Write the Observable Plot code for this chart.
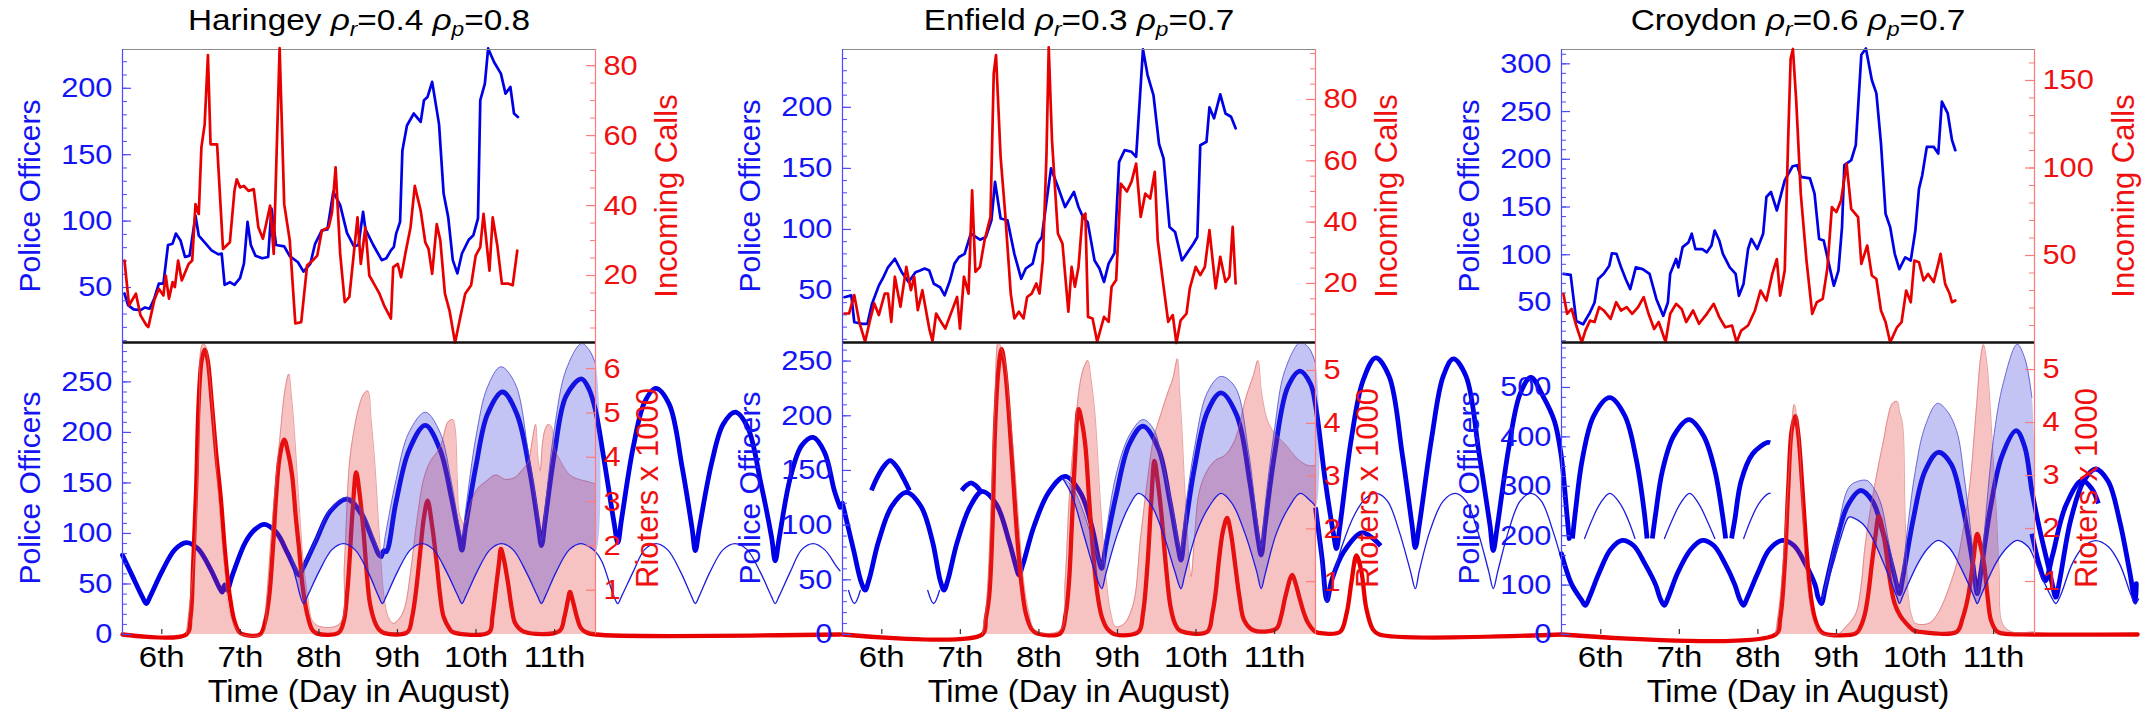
<!DOCTYPE html>
<html><head><meta charset="utf-8">
<script src="https://cdn.jsdelivr.net/npm/d3@7"></script>
<script src="https://cdn.jsdelivr.net/npm/@observablehq/plot@0.6"></script>
<style>
html,body{margin:0;padding:0;background:#fff;}
#root{position:relative;width:2153px;height:721px;overflow:hidden;background:#fff;font-family:"Liberation Sans",Arial,Helvetica,sans-serif;}
#root svg{overflow:visible;}
.lbl{position:absolute;white-space:nowrap;line-height:1;}
.sub{font-size:0.68em;position:relative;top:0.28em;line-height:0;}
</style></head><body><div id="root"></div><script>
// ---------------- data ----------------
const boroughs = ["Haringey", "Enfield", "Croydon"];
const rhoR = ["0.4", "0.3", "0.6"];
const rhoP = ["0.8", "0.7", "0.7"];
const hoursDomain = [0, 144.5];           // hours since 12:00, 5 August
const dayTicks = [6, 7, 8, 9, 10, 11];
const dayLabels = ["6th", "7th", "8th", "9th", "10th", "11th"];

// top panels: [hour, value]
const haringeyOfficersTop = [[0.6,45.5],[1.7,36.7],[3.4,33.5],[5.5,33],[6.9,35],[8.3,34],[9.7,41.7],[11.1,53],[12.5,53],[13.9,82],[15.3,83],[16.3,90.6],[17.7,85.6],[19.1,73],[20.5,74],[22.3,104],[23.3,89],[25.1,84],[27.2,78],[29.3,75],[30.3,75.6],[31.2,52],[32.8,54],[34.2,52],[35.9,57],[37.1,68],[38.2,99.4],[39.2,82],[40.6,74],[42.7,72],[44.5,73],[45.5,109.5],[46.9,82],[49.4,81],[51.1,73.6],[53.6,69],[55.3,62],[57.4,68],[58.8,82.6],[60.9,93],[62.6,93.7],[64.4,122],[66.5,112],[68.6,91],[70.7,81],[72.1,82],[73.5,107],[74.2,94],[76.6,82],[79.2,70.6],[80.6,72],[82,78],[82.9,80.6],[83.6,90.6],[84.8,99.4],[85.5,153],[86.9,172],[89,181],[91.1,174.7],[92.1,191],[93.2,193.5],[94.6,204.8],[96.7,173],[98.1,120.7],[99.5,103],[100.9,70.6],[102.3,60.6],[103.7,75.6],[105.8,86],[107.2,89.4],[108.6,102],[109.3,191],[110.7,203.5],[111.7,230],[113.5,219.8],[115.6,211],[117,196],[118.5,201],[119.6,181],[120.8,178.4]];
const haringeyCallsTop = [[0.6,24.3],[2,11.5],[4.1,14.8],[5.5,8.6],[7.3,5.8],[7.9,5.3],[9.7,12.9],[11.1,16.2],[12.5,14.3],[13.2,20],[14.2,13.4],[15.3,18.1],[16,16.7],[17,24.3],[18.1,18.6],[20.2,23.3],[21.3,24.3],[22.3,40.4],[23.3,37.6],[24.1,56.6],[25.1,63.2],[26.1,83],[26.9,57.5],[28.9,57.5],[30.7,27.6],[32.8,29.5],[34.2,44.2],[34.9,47.5],[35.9,45.2],[37.1,45.6],[38.5,44.2],[40.1,44.7],[41.5,33.8],[42.9,30.5],[45.1,40],[46.2,26.2],[48,85],[49.4,40.4],[51.1,30],[52.8,6.3],[54.6,6.7],[56.4,22.9],[58.1,24.3],[59.5,25.7],[60.9,32.8],[63,33.8],[64,38],[65.1,50.9],[66.5,26.2],[67.9,12.4],[69.3,13.9],[71.8,36.6],[72.8,23.3],[74.2,33.8],[75.4,20],[77.1,17.2],[78.5,14.8],[79.9,11.5],[82,7.7],[82.7,22.4],[84.1,23.3],[85.1,19.5],[86.5,26.7],[88,33.8],[89.3,45.6],[91.1,38.5],[92.5,29.5],[93.5,27.6],[94.6,20.5],[96,34.7],[97.1,30],[98.5,14.8],[99.9,10],[101.6,0.8],[103,7.2],[104.7,14.8],[106.5,17.2],[107.9,25.7],[109.3,28.1],[110.3,37.6],[112.1,21.4],[113.1,36.6],[114.5,28.6],[115.9,17.7],[117.8,17.7],[119.2,17.2],[120.6,27.1]];
const enfieldOfficersTop = [[0.6,44.5],[2.7,46],[3.6,24],[6.2,22.6],[7.6,22.6],[9,39],[11.1,54],[12.5,61],[13.9,69],[16,76],[18.1,65],[20.2,57],[22.3,65],[23.7,66.4],[25.1,68],[26.5,66.4],[27.9,55.5],[29.8,52.7],[31.2,46],[32.8,58],[34.2,72],[35.6,77.4],[37.3,80],[39.2,96.5],[42,91.6],[43.8,93.8],[45.5,107.5],[46.6,139],[48.3,109],[50.4,107.5],[52.5,80],[54.6,59.6],[56,68],[58.1,72],[59.5,88.3],[60.9,93.8],[62.3,122.5],[63.7,150],[65.8,135],[68,118.4],[70.7,130.8],[72.1,118.4],[73.5,110],[74.9,106],[77,74.6],[78.5,68],[79.9,57],[81.3,72],[83.1,80.7],[84.5,155.4],[86.2,165],[88.3,163.6],[89.7,159.5],[91.8,247.5],[93.2,226.5],[95,210],[96.7,170],[98.1,158],[99.9,102],[101.6,98],[103.7,74.6],[105.1,80],[107.2,88.3],[108.4,93.8],[109.3,169],[111.2,171.8],[112.1,200],[113.5,191],[115.4,210.7],[117,195],[118.7,192.3],[120.1,182.8]];
const enfieldCallsTop = [[0.6,10.2],[2,10.2],[3.6,16.2],[5.1,7.5],[6.9,1.0],[8.3,7.5],[9.7,13.5],[11.1,9.7],[12.9,16.7],[13.9,16.7],[14.9,7.5],[16,22.2],[17.7,12.4],[19.5,25.4],[20.9,17.8],[21.9,22.2],[23,11.3],[24.4,17.8],[26.5,5.3],[27.5,1.2],[28.6,10.2],[29.8,8],[31.4,5.3],[33.5,11.3],[35,15.6],[35.9,5.3],[37.1,22.2],[38.5,16.7],[39.6,50.4],[40.6,23.8],[42,25.4],[43.4,34.1],[45.2,41.7],[46.2,88.5],[46.9,94.5],[48.3,61.3],[49.7,42.8],[51.4,16.7],[52.5,8.6],[53.9,10.8],[55.3,8.6],[56.4,15.6],[57.8,16.7],[59.2,20],[60.2,16.7],[61.2,27.6],[62.3,61.3],[63,97],[64,66.7],[65.8,36.3],[67.2,33],[69,10.8],[70,25.4],[71,18.9],[72.1,25.4],[73.3,41.7],[74.2,42.8],[75,9.1],[76.4,8.6],[77.8,1.0],[79.9,9.1],[81.3,7.5],[82.2,18.9],[83.6,21.1],[85,52.6],[86.9,50],[88.3,53.2],[89.7,59.1],[91.1,41.7],[92.5,49.3],[94,47.7],[95.4,56.4],[96.3,34.1],[98.1,18.9],[99.5,7.5],[100.9,9.7],[102,0.6],[103.3,8],[105.1,10.2],[106.1,18.4],[107.9,25.4],[109.3,22.7],[110.7,25.4],[112.1,37.4],[114,18.4],[115.4,28.7],[117,20.5],[118.2,22.2],[119.2,38.5],[120.1,20]];
const croydonOfficersTop = [[0.6,80],[2.8,79],[4.5,30.7],[6.6,27.2],[8.7,39.5],[10.1,50],[11.2,74.6],[12.9,80],[14.6,88.6],[15.4,101.6],[16.8,101],[18.2,86.8],[19.6,74.6],[21,64],[22.7,86.8],[24.8,85],[26.9,80],[29,53.5],[31.1,36],[32.5,50],[33.2,80],[35,95.6],[35.7,86.8],[37,108],[38.8,113],[39.8,122],[40.9,106],[43,106],[44.4,102.6],[45.8,109.6],[46.8,125.4],[48.2,115],[49.3,101],[51.4,86.8],[53.2,80],[54.2,57],[55.6,69.3],[57,106],[58,116.6],[59.8,106],[61.6,122],[62.6,160.5],[64,165.7],[65.8,146.4],[68.2,178],[70.6,192.7],[72,193.8],[73.1,181.5],[75.9,180],[77.3,164],[78.7,116.6],[80.1,115],[81.8,88.6],[83.2,67.5],[84.6,83.3],[85.7,129],[86.4,193.8],[88.5,199],[89.9,214.8],[91.6,309.5],[93,316],[94.8,283],[96.2,269],[97.6,216.6],[99,143],[100.4,129],[101.8,101],[103.2,85],[105,97.3],[106.7,94],[108.1,125.4],[109.2,169],[110.2,183.2],[111.6,213],[113.7,213],[115.1,206],[116.2,260.4],[118,248],[119.3,220],[120.3,209.5]];
const croydonCallsTop = [[0.6,28],[1.7,16.7],[3.1,19.5],[4.5,10],[6.2,0.4],[7.3,7.1],[8.7,12.8],[10.1,12],[11.5,20.5],[12.9,18.6],[15,13.8],[16.7,23.3],[18.2,18.6],[19.9,20.5],[21.6,16.7],[23.4,20.5],[25.1,26.2],[26.6,16.7],[28.3,8],[29.7,12],[31.8,0.6],[33.2,16.7],[35,22.4],[36.7,19.5],[38.1,12],[40.2,18.6],[42,11],[44.4,16.7],[46.5,22.4],[48.2,14.8],[50,9],[52.1,10],[53.5,0.4],[54.9,7.1],[57,10],[59.1,18.6],[60.8,30],[62.6,24.3],[64.4,39.5],[65.8,48],[66.8,27.1],[68.2,41.4],[69.2,113.8],[70,162.4],[70.7,168],[71.7,138.6],[73.1,85.2],[74.8,48],[76.6,16.7],[78,23.3],[79.8,25.2],[81.2,42.4],[82.6,77.6],[84,74.8],[85.4,81.4],[87.1,102.4],[88.5,76.7],[90.6,71.9],[91.6,45.2],[93.4,55.7],[94.8,38.6],[96.2,36.6],[97.6,18.6],[99,12],[100.4,0.4],[102.5,9],[103.9,12],[105.3,30],[106.7,23.3],[107.8,47.1],[109.2,46.2],[110.6,35.7],[112,39.5],[113.7,34.8],[115.1,45.2],[115.8,51],[117.2,33.8],[118.6,28],[119.3,23.3],[120.3,24.3]];

// bottom panels: model police officers (mean, band low / high) and rioters x 1000 (mean, band high)
const haringeyOfficers = [[0,78.5],[3,58],[6.1,37],[7.3,30.7],[8.5,38],[12,62],[16,84],[19.5,91],[23,85],[27,64],[29.5,47],[30.5,42],[31.2,49],[32,44],[33.5,58],[37.5,91],[40.5,104],[43.4,109],[47,101],[50.5,80],[53,63],[53.9,58.7],[55.2,66],[59,92],[63.5,122],[68.6,134],[73,119],[76.5,93],[78.3,79],[79,77],[79.8,83],[80.6,82],[83.5,130],[87.5,182],[92.5,207],[97,183],[100.5,135],[102.8,97],[103.7,83.5],[104.8,106],[108,167],[111.5,218],[116.1,240],[120.5,218],[124.5,160],[127,108],[128,88],[129.2,115],[132,180],[135.5,236],[140.2,253],[142.5,243],[144.5,222],[147,175],[150.2,110],[151.3,91],[152.5,115],[156,185],[159.5,230],[162.9,243.6],[167,228],[171,165],[174,105],[175,83],[176.2,105],[180,170],[183.5,208],[187.2,220],[191,205],[195,150],[198.3,96],[199.4,73],[200.6,95],[204,155],[207.5,187],[211,195],[214.5,180],[217.5,142],[219.2,126]];
const haringeyOfficersGhost = [
  [[228.8,142.6],[230.5,155],[232.5,166],[234.5,172],[236.5,166],[238.5,155],[240.4,142.6]],
  [[256.4,142.6],[257.8,147.5],[259.2,150],[260.6,147.5],[262,142.6]]
];
const haringeyOfficersLow = [[51,80],[53,55],[55.3,30.7],[56.5,38],[60,62],[64,84],[67.5,90],[71,84],[75,62],[78.2,38],[79.4,30.7],[80.6,38],[84,62],[88,84],[91.5,90],[95,84],[99,62],[102.5,38],[103.7,30.7],[104.9,38],[108.3,62],[112.3,84],[115.8,90],[119.3,84],[123.3,62],[126.8,38],[128,30.7],[129.2,38],[132.5,62],[136.5,84],[140,90],[143,86],[144.5,82],[146.5,72],[150.1,38],[151.3,30.7],[152.5,38],[156,62],[159.5,84],[163,90],[166.5,84],[170.5,62],[173.8,38],[175,30.7],[176.2,38],[179.5,62],[183.5,84],[187.2,90],[190.8,84],[194.8,62],[198.2,38],[199.4,30.7],[200.6,38],[204,62],[207.5,84],[211,90],[214.5,84],[218,68],[219.2,63]];
const haringeyOfficersLowGhost = [
  [[221.8,43.6],[223.6,30.7],[225.4,43.6]],
  [[246,43.6],[247.8,30.7],[249.6,43.6]]
];
const haringeyOfficersHigh = [[51,80],[53.9,62],[55.2,68],[59,94],[63.5,124],[68.6,136],[73,124],[76.5,98],[78.3,84],[79.2,80],[80.4,100],[83.5,152],[87.5,200],[92.5,220],[97,200],[100.5,150],[102.8,108],[103.7,97],[104.9,125],[108,196],[111.5,245],[115.6,265],[120,248],[124,180],[127,118],[128,93],[129.2,128],[132,205],[135.5,262],[140.2,288],[142.5,282],[144.5,268]];
const haringeyRioters = [[0,0],[19.5,0],[20.8,0.4],[21.6,1.6],[22.5,3.3],[23.3,5.3],[24.2,6.2],[25.1,6.43],[26,6.2],[27.2,5.3],[28.6,4.1],[30,3.1],[31.4,1.8],[32.8,0.85],[34.2,0.3],[35.6,0.06],[37,0],[42,0],[43.6,0.3],[44.8,0.85],[46,2.0],[46.9,3.1],[48,4.0],[49.4,4.4],[50.6,4.1],[51.8,3.6],[53,2.6],[53.9,1.97],[55,1.1],[56.4,0.47],[58,0.1],[59.5,0.02],[66,0.04],[67.6,0.3],[68.6,0.9],[69.3,1.6],[70.3,2.8],[71.4,3.66],[72.4,3.2],[73.6,2.34],[74.6,1.4],[75.6,0.7],[77,0.3],[78.5,0.1],[80,0.03],[87,0.05],[88.5,0.4],[89.7,1.0],[91,1.9],[92,2.6],[93.2,3.02],[94.5,2.5],[96,1.6],[97,0.9],[98.1,0.4],[100,0.12],[101,0.05],[112,0.05],[113,0.4],[114,1.0],[115,1.6],[115.6,1.93],[116.5,1.7],[117.8,1.15],[119,0.55],[120,0.25],[122.7,0.06],[133.5,0.08],[135,0.4],[136,0.75],[136.7,0.96],[137.6,0.75],[138.8,0.4],[140,0.15],[141.6,0.05],[144.5,0],[219.2,0]];
const haringeyRiotersHigh = [[19.5,0],[21,1.0],[22.3,2.3],[23.4,4.5],[24.4,6.54],[25.2,6.54],[26.5,5.9],[28,4.6],[29.3,3.1],[31,1.6],[32.8,0.47],[35,0.1],[36.4,0],[42.7,0],[44,0.8],[45.5,2.3],[47,3.6],[48.3,4.6],[49.6,5.5],[50.8,5.88],[51.6,5.4],[52.5,4.6],[53.8,3.1],[55.3,1.6],[56.7,0.8],[58.1,0.3],[60.9,0.17],[66.5,0.25],[67.8,1.6],[69.3,3.84],[70.7,4.6],[72.1,5.1],[73.5,5.4],[74.9,5.5],[76,4.8],[77.1,3.84],[78.5,2.2],[79.9,0.85],[81.2,0.4],[82.7,0.25],[84.5,0.35],[86.2,0.6],[88,1.4],[90,2.6],[92,3.5],[94,3.9],[96,4.1],[97.4,4.3],[99.5,4.8],[100.9,4.85],[101.6,4.67],[102.3,3.5],[103,2.7],[104.4,2.5],[106.5,3.0],[108.6,3.3],[111,3.45],[114,3.6],[117,3.5],[120,3.55],[122,3.7],[124,3.9],[125,4.3],[126.2,4.74],[126.9,4.0],[127.6,3.7],[128.3,4.3],[129,4.6],[130,4.74],[131,4.7],[132,4.2],[133.9,3.9],[136.7,3.6],[139.5,3.5],[142.3,3.45],[144.5,3.4]];

const enfieldOfficers = [[0,120],[3.4,77],[5.7,48],[6.9,40.6],[8.1,50],[11,85],[15,117],[19.5,130],[24,117],[27.5,85],[29.8,50],[31,40.6],[32.2,50],[35,84],[39,117],[42.7,130.8],[47,119],[51,84],[53,62],[53.9,54.4],[55.1,64],[58.5,99],[63,130],[68,144.5],[72.8,129],[76.4,96],[78.3,68],[79.2,60.5],[80.4,80],[83.5,126],[87.6,174],[91.8,190.4],[96.5,170],[100,122],[102.5,80],[103.4,68],[104.6,95],[107.5,152],[111.4,203],[115.6,221],[120.5,200],[124.5,138],[127,86],[127.9,72.7],[129.1,100],[132,165],[136,226],[139.8,240.8],[143,229],[144.5,210],[147.5,140],[150,92],[150.9,78.6],[152,100],[155.5,180],[159,232],[162.9,253],[167,236],[171,165],[174,100],[175,79.5],[176.2,100],[180,180],[183.5,236],[186.6,252],[190.5,236],[194.5,165],[197.8,100],[198.8,76.8],[200,98],[203.5,170],[207,220],[210.3,235],[214,218],[217.5,195],[219.5,165],[221.3,110],[222,87.8]];
const enfieldOfficersGhost = [
  [[223,87.8],[224,115],[226,160],[229.5,200],[234.4,216.6],[239,200],[242.5,160],[244.8,115],[245.8,87.8]],
  [[247.4,87.8],[248.4,110],[250.5,150],[254,182],[258.6,196.5],[263,182],[266.5,150],[268.8,110],[269.8,87.8]],
  [[271.6,87.8],[272.6,105],[274.5,140],[278,165],[282.5,175.5],[283.4,175.3]],
  [[144.5,116],[146.5,70],[148,31],[149.5,50],[153,75],[158.6,93],[162,88],[164.4,81]]
];
const enfieldOfficersLow = [[67.2,143],[70,128],[73.6,92.6],[77,58],[79.2,42],[80.4,55],[84,92],[87.5,117],[90.4,129],[94,120],[98,92],[101.5,58],[103.4,42],[104.6,55],[108,92],[112,117],[115.6,129],[119,120],[123,92],[126.5,58],[127.9,42],[129.1,55],[132.5,92],[136.5,117],[139.8,129],[143,122],[144.5,117],[146,80],[148,30],[149.3,45],[152.5,80],[156.5,110],[160,125],[163.2,129],[166.5,122],[170,95],[173.5,58],[175,42],[176.2,58],[179.5,95],[183.5,122],[187.2,129],[190.5,122],[194,95],[197.4,58],[198.8,42],[200.2,58],[203.5,95],[207,122],[210.3,129],[213.5,122],[217,95],[219.5,70]];
const enfieldOfficersLowGhost = [
  [[226.7,87.8],[229,105],[231.5,120],[234.4,129],[237.5,120],[240,105],[242.1,87.8]],
  [[251.1,87.8],[253.5,105],[256,120],[258.8,129],[261.5,120],[264,105],[266.5,87.8]],
  [[275.3,87.8],[277.5,105],[280,120],[283,129],[283.4,129]]
];
const enfieldOfficersHigh = [[67.2,143],[70,136],[73.6,112],[76.5,85],[78.5,68],[79.2,65],[80.4,90],[83.5,145],[87.6,182],[91.8,196.5],[95,188],[98,155],[101.5,105],[103,80],[103.4,77],[104.6,110],[107.5,170],[111.4,221],[115.6,236],[120,226],[124,168],[126.8,100],[127.9,80],[129.1,118],[132,188],[135,240],[139.8,267],[142.5,262],[144.5,248]];
const enfieldRioters = [[0,0],[42.7,0],[43.8,0.3],[44.8,0.72],[45.8,2.0],[46.6,3.89],[47.6,5.0],[48.6,5.41],[49.7,5.0],[50.8,4.2],[52,3.1],[53.2,1.99],[54.6,1.0],[56,0.4],[57.8,0.1],[59.5,0.02],[66.5,0.02],[68.2,0.4],[69.2,1.0],[70,1.99],[71,3.3],[72.1,4.27],[73.2,4.0],[74.2,3.57],[75.3,2.6],[76.4,1.67],[77.8,0.8],[79.2,0.34],[81,0.1],[83.4,0],[90.4,0.05],[91.8,0.4],[93.2,1.35],[94.3,2.5],[95.3,3.29],[96.3,2.9],[97.4,2.3],[98.8,1.3],[100.2,0.53],[101.6,0.2],[103,0.08],[111.4,0.05],[113,0.4],[114,0.8],[114.9,1.35],[116.2,1.95],[117.5,2.21],[118.7,1.9],[119.9,1.35],[121.3,0.7],[122.7,0.27],[125.5,0.08],[132.5,0.11],[134,0.35],[135.3,0.72],[137.4,1.13],[138.5,0.95],[139.5,0.72],[141,0.4],[142.3,0.21],[144.5,0.05],[147,0.02],[152,0.05],[154,0.4],[155.5,1.0],[157,1.5],[158.5,1.2],[160,0.5],[162,0.1],[164,0],[219.5,0]];
const enfieldRiotersHigh = [[42.7,0],[44,0.6],[45.5,2.62],[46.5,4.3],[47.6,5.55],[48.6,5.4],[49.7,5.16],[51,4.3],[52.5,3.25],[54,2.0],[55.3,1.03],[57,0.4],[58.8,0.08],[66.5,0.08],[68,1.0],[69.3,2.62],[71,3.9],[72.8,4.84],[74,5.1],[74.9,5.19],[76,4.8],[77.1,4.2],[78.8,2.5],[80.6,1.03],[82,0.4],[83.4,0.15],[86,0.2],[88.9,0.59],[91,1.8],[93.2,2.94],[95,3.7],[97.4,4.2],[99.5,4.6],[100.9,4.84],[102.3,5.22],[103,4.6],[103.7,3.89],[104.8,2.5],[106.5,1.1],[107.5,1.8],[109,2.7],[111.4,3.1],[114,3.3],[117,3.4],[120,3.7],[123.4,4.52],[125.5,4.9],[126.9,5.19],[128,4.6],[129.7,4.08],[131.8,3.83],[135.3,3.6],[139.5,3.3],[142.3,3.2],[144.5,3.2]];

const croydonOfficers = [[0,163.5],[3,103],[6.1,70],[7.3,59],[8.5,75],[11.5,125],[15,172],[18.5,190.5],[22,180],[25.5,143],[28.8,100],[30.2,72],[31.4,59],[32.6,75],[35.5,125],[39.5,172],[43,190.5],[46.5,180],[50,143],[53,100],[54.4,72],[55.6,59],[56.8,75],[60,125],[63.5,172],[67.5,190.5],[71,180],[74.5,143],[77.5,100],[78.4,75],[79.4,62.6],[80.6,95],[84,190],[87.5,262],[91.3,291.4],[95,270],[98.5,200],[101.5,125],[102.4,100],[103.2,82.8],[104.4,120],[107.5,235],[111,330],[115.1,368.8],[119,345],[122.5,260],[125.5,150],[126.2,115],[127,82.8],[128.2,130],[131,255],[134.5,360],[138.9,412.5],[141.5,380],[143.7,291],[146,215],[149,130],[150,100],[151,75.5],[152.2,110],[155.5,230],[159.5,310],[163.1,335],[167,310],[170.5,230],[173.5,130],[175.3,65.4],[175.6,103]];
const croydonOfficersGhost = [
  [[143.7,204],[146,140],[147.8,109],[150,160],[154,260],[159,312],[162,295],[164,265]]
];
const croydonOfficersLow = [[79.4,66],[81,100],[83,143],[85.5,200],[87.8,237.6],[89.5,235],[92,224],[95,195],[97.6,156.8],[100.5,110],[102.5,75],[103.2,62.6],[104.4,80],[108.8,143],[112,175],[115.1,190.5],[118.5,175],[121.4,143],[124.5,100],[126.3,72],[127,62.6],[128.2,80],[132.6,143],[136,175],[139.2,190.5],[142.5,178],[143.7,165],[146.5,120],[149.5,78],[151,62.7],[152.5,80],[156,143],[159.5,178],[163.2,190],[167,178],[170.5,143],[174,80],[175.3,62.7],[176.3,72]];
const croydonOfficersLowGhost = [];
const croydonOfficersHigh = [[79.4,66],[81,110],[84,200],[87.8,298],[90.5,310],[93.4,311.6],[95.5,295],[97.6,264.5],[100,185],[102.3,110],[103.2,89.5],[104.4,140],[106,230],[108.1,331.8],[111,420],[114.8,467.7],[117.5,455],[120.7,412.5],[123,320],[125.5,180],[127,82.8],[128.5,160],[131.9,392.4],[135,510],[139.2,587.5],[141.5,560],[143.7,480]];
const croydonRioters = [[0,0],[65.4,0],[66.8,0.3],[68.2,1.33],[69.3,2.8],[70.3,3.84],[71.4,4.12],[72.3,3.8],[73.1,3.21],[74.2,2.2],[75.2,1.33],[76.2,0.7],[77.3,0.33],[78.7,0.1],[80.1,0.02],[89.9,0.02],[91.4,0.15],[92.7,0.39],[93.8,0.8],[94.8,1.33],[96,1.9],[96.9,2.24],[98,2.0],[99,1.65],[100.4,1.0],[101.8,0.58],[103.5,0.35],[105.3,0.21],[107.5,0.08],[109.5,0.05],[120.7,0.05],[122.5,0.3],[124.2,0.71],[125.8,1.4],[127,1.9],[128.1,1.65],[129.1,1.33],[130.2,0.7],[131.2,0.27],[133,0.06],[134.7,0.02],[144.1,0],[176,0]];
const croydonRiotersHigh = [[65.4,0],[67,0.8],[68.2,1.8],[69,2.59],[70,3.6],[71.1,4.34],[72.4,3.84],[73.5,2.6],[74.5,1.33],[75.8,0.6],[77.3,0.21],[80.1,0],[84.3,0],[87,0.15],[89.9,0.39],[91.5,0.9],[92.7,1.65],[94.5,2.4],[96.9,3.21],[98.5,3.7],[99.7,4.09],[101,4.35],[102.5,4.4],[103.3,4.2],[104.2,3.97],[105,2.2],[106,0.71],[107,0.35],[108.1,0.21],[112.3,0.21],[114.5,0.35],[116.5,0.58],[118.5,0.9],[120.7,1.33],[122.8,2.0],[124.9,2.9],[126,3.7],[127,4.47],[128,5.2],[128.9,5.47],[129.8,5.2],[130.8,4.47],[131.7,3.5],[132.6,2.59],[133.7,1.2],[134.7,0.21],[137.5,0.05],[144.1,0.05]];

// axis domains and tick values
const topOfficersDomain = [[8.6,229.2],[7.4,247.4],[8.1,315]];
const topCallsDomain = [[0.86,84.6],[0.75,96.3],[0.3,167.7]];
const botOfficersDomain = [[0,289],[0,267],[0,591]];
const botRiotersDomain = [[0,6.59],[0,5.53],[0,5.51]];
const topOfficersTicks = [[50,100,150,200],[50,100,150,200],[50,100,150,200,250,300]];
const topCallsTicks = [[20,40,60,80],[20,40,60,80],[50,100,150]];
const botOfficersTicks = [[0,50,100,150,200,250],[0,50,100,150,200,250],[0,100,200,300,400,500]];
const botRiotersTicks = [[1,2,3,4,5,6],[1,2,3,4,5],[1,2,3,4,5]];

// --------------- layout / style ---------------
const FONT = '"Liberation Sans", Arial, Helvetica, sans-serif';
const root = document.getElementById("root");
const FW = 473, ML = 140, MR = 140;
const colLeft = [122, 842, 1561];
const TOPG = {top: 39, mt: 10, fh: 293, mb: 0};
const BOTG = {top: 332, mt: 10, fh: 292, mb: 80};
const BLUE = "#0000e6", RED = "#e80000", BLUE_TXT = "#1414f5", RED_TXT = "#f01010";
const AX_BLUE = "#4a4aff", AX_RED = "#ff7a7a";
const TEXT_STRETCH = 1.1;

const series = [
  {oTop: haringeyOfficersTop, cTop: haringeyCallsTop, off: haringeyOfficers, offG: haringeyOfficersGhost, lo: haringeyOfficersLow, loG: haringeyOfficersLowGhost, hi: haringeyOfficersHigh, ri: haringeyRioters, riHi: haringeyRiotersHigh},
  {oTop: enfieldOfficersTop, cTop: enfieldCallsTop, off: enfieldOfficers, offG: enfieldOfficersGhost, lo: enfieldOfficersLow, loG: enfieldOfficersLowGhost, hi: enfieldOfficersHigh, ri: enfieldRioters, riHi: enfieldRiotersHigh},
  {oTop: croydonOfficersTop, cTop: croydonCallsTop, off: croydonOfficers, offG: croydonOfficersGhost, lo: croydonOfficersLow, loG: croydonOfficersLowGhost, hi: croydonOfficersHigh, ri: croydonRioters, riHi: croydonRiotersHigh}
];

const X = d => d[0], Y = d => d[1];
const seg = segs => segs.flatMap((s, k) => s.map(p => ({h: p[0], v: p[1], k})));

// widen glyphs horizontally (the reference type is slightly stretched); only
// texts positioned through a translate() transform are touched
function stretchTexts(svg) {
  svg.querySelectorAll("text").forEach(t => {
    const tr = t.getAttribute("transform");
    if (tr && tr.indexOf("translate") >= 0) t.setAttribute("transform", `${tr} scale(${TEXT_STRETCH},1)`);
  });
}

function addLayer(col, geo, yDomain, marks) {
  const svg = Plot.plot({
    width: ML + FW + MR, height: geo.mt + geo.fh + geo.mb,
    marginLeft: ML, marginRight: MR, marginTop: geo.mt, marginBottom: geo.mb,
    x: {domain: hoursDomain, axis: null},
    y: {domain: yDomain, axis: null},
    style: {background: "transparent", overflow: "visible", fontFamily: FONT},
    marks
  });
  Object.assign(svg.style, {position: "absolute", left: (colLeft[col] - ML) + "px", top: geo.top + "px",
    overflow: "visible", maxWidth: "none", background: "transparent"});
  stretchTexts(svg);
  root.appendChild(svg);
}

function leftAxis(major, minor, fs) {
  return [
    Plot.ruleX([hoursDomain[0]], {stroke: AX_BLUE, strokeWidth: 1.2}),
    Plot.tickY(minor, {y: d => d, insetRight: FW - 5, stroke: AX_BLUE, strokeWidth: 1}),
    Plot.tickY(major, {y: d => d, insetRight: FW - 9, stroke: AX_BLUE, strokeWidth: 1.2}),
    Plot.text(major, {y: d => d, text: d => String(d), frameAnchor: "left", dx: -10, textAnchor: "end", fill: BLUE_TXT, fontSize: fs})
  ];
}
function rightAxis(major, minor, fs) {
  return [
    Plot.ruleX([hoursDomain[1]], {stroke: AX_RED, strokeWidth: 1.2}),
    Plot.tickY(minor, {y: d => d, insetLeft: FW - 5, stroke: AX_RED, strokeWidth: 1}),
    Plot.tickY(major, {y: d => d, insetLeft: FW - 9, stroke: AX_RED, strokeWidth: 1.2}),
    Plot.text(major, {y: d => d, text: d => String(d), frameAnchor: "right", dx: 8, textAnchor: "start", fill: RED_TXT, fontSize: fs})
  ];
}
const stepRange = (dom, step) => d3.range(Math.ceil(dom[0] / step) * step, dom[1] + 1e-9, step);

function addLabel(html, x, y, style) {
  const d = document.createElement("div");
  d.className = "lbl";
  d.innerHTML = html;
  Object.assign(d.style, {left: x + "px", top: y + "px"}, style);
  root.appendChild(d);
}

for (let c = 0; c < 3; c++) {
  const s = series[c];
  const L = colLeft[c], R = L + FW, C = L + FW / 2;

  // ---------- top panel ----------
  const tbD = topOfficersDomain[c], trD = topCallsDomain[c];
  addLayer(c, TOPG, tbD, [
    Plot.line(s.oTop, {x: X, y: Y, stroke: BLUE, strokeWidth: 2.7}),
    Plot.ruleY([tbD[1]], {stroke: "#8c8c8c", strokeWidth: 1.2}),
    Plot.ruleY([tbD[0]], {stroke: "#111", strokeWidth: 2.2}),
    ...leftAxis(topOfficersTicks[c], stepRange(tbD, 10), 28)
  ]);
  addLayer(c, TOPG, trD, [
    Plot.line(s.cTop, {x: X, y: Y, stroke: RED, strokeWidth: 2.7}),
    ...rightAxis(topCallsTicks[c], stepRange(trD, c === 2 ? 10 : 5), 28)
  ]);

  // ---------- bottom panel ----------
  const bbD = botOfficersDomain[c], brD = botRiotersDomain[c];
  const inFrame = a => a.filter(p => p[0] <= hoursDomain[1] + 0.01);
  const bandPoly = inFrame(s.hi).concat(inFrame(s.lo).slice().reverse());
  addLayer(c, BOTG, bbD, [
    Plot.line(s.off, {x: X, y: Y, stroke: BLUE, strokeWidth: 4.8, curve: "catmull-rom"}),
    Plot.line(seg(s.offG), {x: "h", y: "v", z: "k", stroke: BLUE, strokeWidth: 4.8, curve: "catmull-rom", strokeLinecap: "butt"})
  ]);
  addLayer(c, BOTG, brD, [
    Plot.line(s.ri, {x: X, y: Y, stroke: RED, strokeWidth: 4.3, curve: "catmull-rom"})
  ]);
  addLayer(c, BOTG, brD, [
    Plot.areaY(s.riHi, {x: X, y: Y, fill: "#e53535", fillOpacity: 0.3, curve: "catmull-rom"}),
    Plot.line(s.riHi, {x: X, y: Y, stroke: "#d86a6a", strokeWidth: 0.9, strokeOpacity: 0.7, curve: "catmull-rom"})
  ]);
  addLayer(c, BOTG, bbD, [
    Plot.line(bandPoly, {x: X, y: Y, fill: "#3c3cdc", fillOpacity: 0.3, stroke: "none", curve: "catmull-rom"}),
    Plot.line(s.hi, {x: X, y: Y, stroke: "#4a4ad0", strokeWidth: 1, strokeOpacity: 0.8, curve: "catmull-rom"}),
    Plot.line(s.lo, {x: X, y: Y, stroke: "#1c1ce0", strokeWidth: 1.3, curve: "catmull-rom"}),
    Plot.line(seg(s.loG), {x: "h", y: "v", z: "k", stroke: "#1c1ce0", strokeWidth: 1.3, curve: "catmull-rom"}),
    Plot.ruleY([bbD[1]], {stroke: "#111", strokeWidth: 2.2}),
    ...leftAxis(botOfficersTicks[c], stepRange(bbD, c === 2 ? 20 : 10), 28),
    Plot.tickX(dayTicks, {x: d => (d - 5.5) * 24, insetTop: BOTG.fh - 5, stroke: "#333", strokeWidth: 1.2}),
    Plot.text(dayTicks, {x: d => (d - 5.5) * 24, text: (d, i) => dayLabels[i], frameAnchor: "bottom", lineAnchor: "top", dy: 11, fontSize: 30, fill: "#000"})
  ]);
  addLayer(c, BOTG, brD, [
    ...rightAxis(botRiotersTicks[c], [], 28)
  ]);

  // ---------- texts ----------
  addLabel(`${boroughs[c]} <i>ρ</i><span class="sub"><i>r</i></span>=${rhoR[c]} <i>ρ</i><span class="sub"><i>p</i></span>=${rhoP[c]}`,
    C, 6, {fontSize: "29px", color: "#000", transform: "translateX(-50%) scaleX(1.15)"});
  const rot = {transform: "translate(-50%,-50%) rotate(-90deg)"};
  addLabel("Police Officers", L - 92, 195.5, {fontSize: "30px", color: BLUE_TXT, ...rot});
  addLabel("Police Officers", L - 92, 488, {fontSize: "30px", color: BLUE_TXT, ...rot});
  addLabel("Incoming Calls", R + (c === 2 ? 89 : 71), 195.5, {fontSize: "31px", color: RED_TXT, ...rot});
  addLabel("Rioters x 1000", R + 52, 488, {fontSize: "31px", color: RED_TXT, ...rot});
  addLabel("Time (Day in August)", C, 676, {fontSize: "31px", color: "#000", transform: "translateX(-50%) scaleX(1.05)"});
}
</script></body></html>
